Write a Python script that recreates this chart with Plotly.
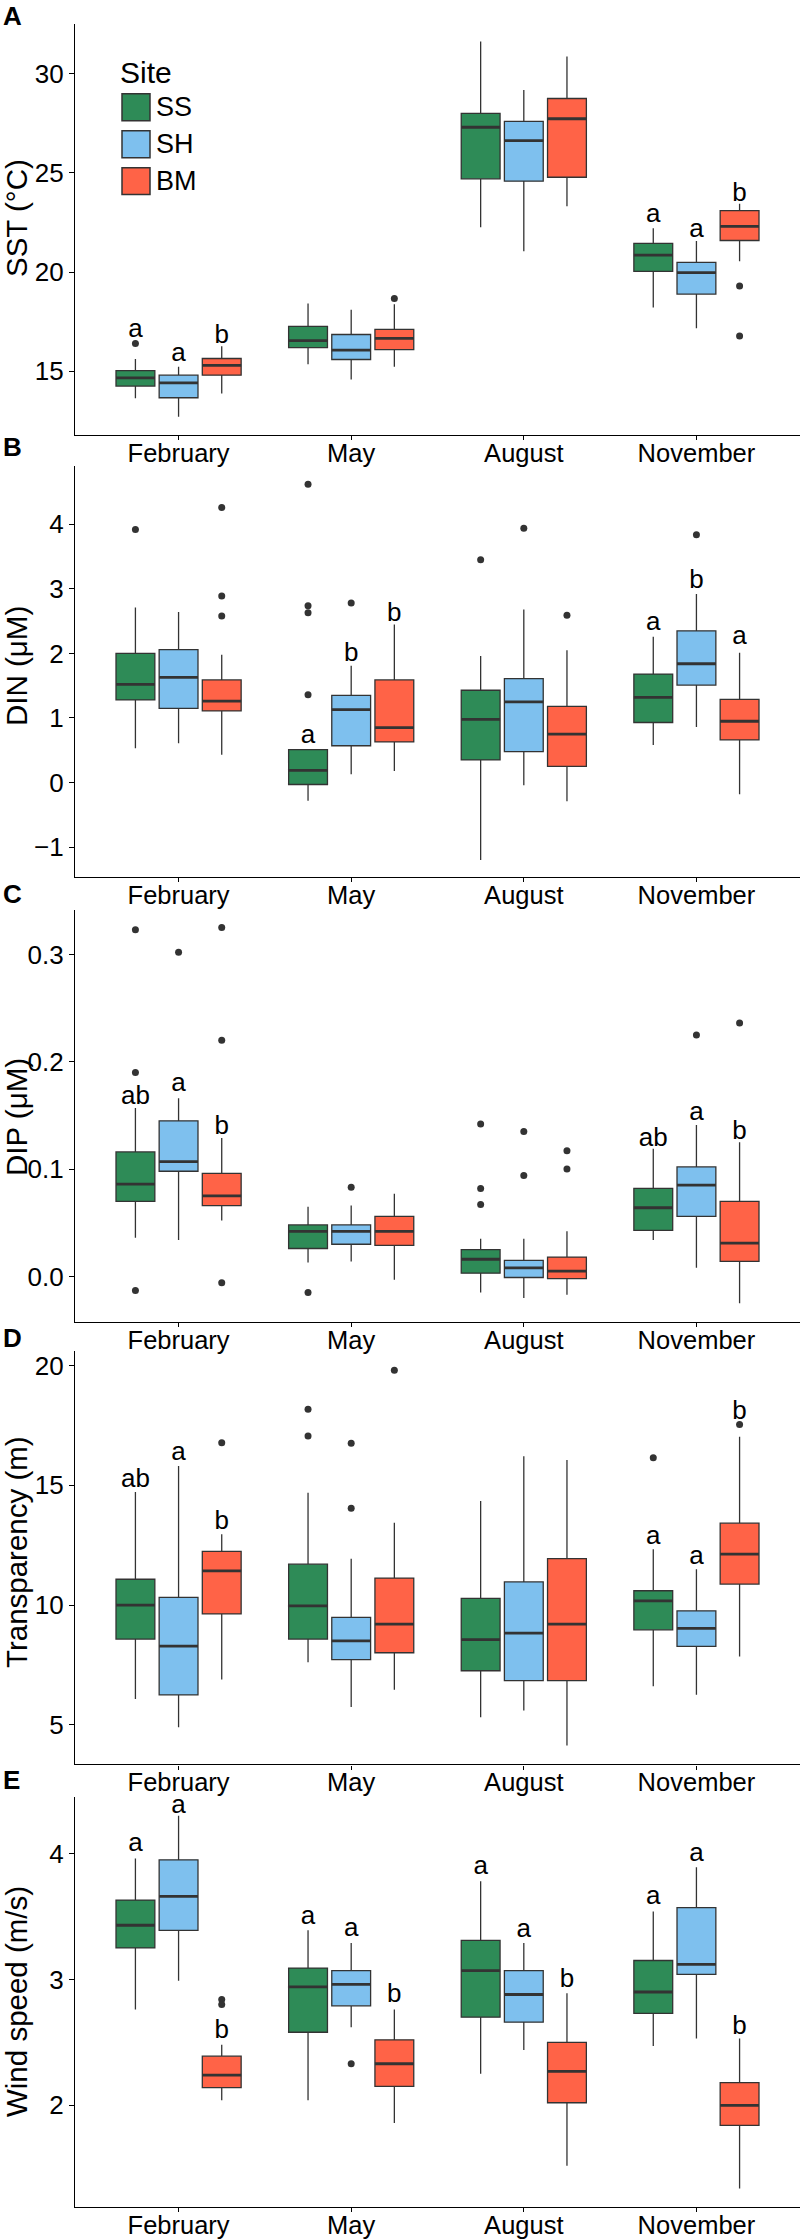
import plotly.graph_objects as go

months = ["February", "May", "August", "November"]
sites = ["SS", "SH", "BM"]
site_fill = {"SS": "#2E8B57", "SH": "#7EC0EE", "BM": "#FF6347"}

# (lower whisker, Q1, median, Q3, upper whisker) for February, May, August, November
sst_stats = {
    "SS": [(13.63, 14.25, 14.66, 15.03, 15.62), (15.35, 16.19, 16.54, 17.26, 18.41),
           (22.26, 24.70, 27.30, 28.00, 31.62), (18.21, 20.03, 20.85, 21.44, 22.21)],
    "SH": [(12.70, 13.66, 14.41, 14.80, 15.22), (14.58, 15.59, 16.06, 16.85, 18.10),
           (21.05, 24.58, 26.63, 27.60, 29.18), (17.16, 18.89, 19.97, 20.49, 21.56)],
    "BM": [(13.88, 14.80, 15.29, 15.64, 16.26), (15.22, 16.09, 16.65, 17.11, 18.37),
           (23.32, 24.78, 27.73, 28.75, 30.87), (20.54, 21.59, 22.30, 23.10, 23.44)],
}
sst_outliers = [("February", "SS", 16.39), ("May", "BM", 18.66),
                ("November", "BM", 19.29), ("November", "BM", 16.78)]
sst_letters = [("February", "SS", "a", 17.05), ("February", "SH", "a", 15.84), ("February", "BM", "b", 16.76),
               ("November", "SS", "a", 22.84), ("November", "SH", "a", 22.11), ("November", "BM", "b", 23.89)]

din_stats = {
    "SS": [(0.53, 1.28, 1.52, 2.00, 2.71), (-0.28, -0.03, 0.19, 0.51, 0.51),
           (-1.20, 0.35, 0.98, 1.43, 1.96), (0.58, 0.93, 1.32, 1.68, 2.26)],
    "SH": [(0.61, 1.15, 1.63, 2.06, 2.64), (0.13, 0.57, 1.13, 1.35, 1.81),
           (-0.04, 0.48, 1.25, 1.61, 2.68), (0.86, 1.51, 1.84, 2.35, 2.92)],
    "BM": [(0.43, 1.11, 1.26, 1.59, 1.98), (0.18, 0.63, 0.85, 1.59, 2.45),
           (-0.29, 0.25, 0.75, 1.18, 2.05), (-0.18, 0.66, 0.95, 1.29, 2.01)],
}
din_outliers = [("February", "SS", 3.92), ("February", "BM", 4.26), ("February", "BM", 2.89),
                ("February", "BM", 2.58), ("May", "SS", 4.62), ("May", "SS", 2.74), ("May", "SS", 2.63),
                ("May", "SS", 1.36), ("May", "SH", 2.78), ("August", "SS", 3.45), ("August", "SH", 3.94),
                ("August", "BM", 2.59), ("November", "SH", 3.84)]
din_letters = [("May", "SS", "a", 0.72), ("May", "SH", "b", 1.99), ("May", "BM", "b", 2.61),
               ("November", "SS", "a", 2.47), ("November", "SH", "b", 3.11), ("November", "BM", "a", 2.24)]

dip_stats = {
    "SS": [(0.036, 0.070, 0.086, 0.116, 0.157), (0.013, 0.026, 0.042, 0.048, 0.065),
           (-0.015, 0.003, 0.016, 0.025, 0.035), (0.034, 0.043, 0.064, 0.082, 0.119)],
    "SH": [(0.034, 0.098, 0.107, 0.145, 0.166), (0.014, 0.030, 0.042, 0.048, 0.066),
           (-0.020, -0.001, 0.008, 0.015, 0.035), (0.008, 0.056, 0.085, 0.102, 0.141)],
    "BM": [(0.052, 0.066, 0.075, 0.096, 0.129), (-0.003, 0.029, 0.042, 0.056, 0.077),
           (-0.017, -0.002, 0.005, 0.018, 0.042), (-0.025, 0.014, 0.031, 0.070, 0.125)],
}
dip_outliers = [("February", "SS", 0.323), ("February", "SS", 0.190), ("February", "SS", -0.013),
                ("February", "SH", 0.302), ("February", "BM", 0.325), ("February", "BM", 0.220),
                ("February", "BM", -0.006), ("May", "SS", -0.015), ("May", "SH", 0.083),
                ("August", "SS", 0.142), ("August", "SS", 0.082), ("August", "SS", 0.067),
                ("August", "SH", 0.135), ("August", "SH", 0.094), ("August", "BM", 0.117),
                ("August", "BM", 0.100), ("November", "SH", 0.225), ("November", "BM", 0.236)]
dip_letters = [("February", "SS", "ab", 0.1664), ("February", "SH", "a", 0.1785), ("February", "BM", "b", 0.1385),
               ("November", "SS", "ab", 0.1277), ("November", "SH", "a", 0.1515), ("November", "BM", "b", 0.1339)]

trans_stats = {
    "SS": [(6.08, 8.58, 10.00, 11.08, 14.72), (7.61, 8.58, 9.97, 11.71, 14.69),
           (5.32, 7.26, 8.56, 10.28, 14.35), (6.61, 8.97, 10.18, 10.60, 12.33)],
    "SH": [(4.90, 6.25, 8.29, 10.32, 15.81), (5.74, 7.72, 8.51, 9.49, 11.94),
           (5.60, 6.85, 8.83, 10.97, 16.22), (6.26, 8.28, 9.03, 9.76, 11.50)],
    "BM": [(6.89, 9.63, 11.43, 12.24, 12.96), (6.47, 8.01, 9.21, 11.13, 13.44),
           (4.14, 6.85, 9.21, 11.94, 16.06), (7.85, 10.88, 12.13, 13.42, 17.03)],
}
trans_outliers = [("February", "BM", 16.78), ("May", "SS", 18.18), ("May", "SS", 17.06),
                  ("May", "SH", 16.76), ("May", "SH", 14.04), ("May", "BM", 19.81),
                  ("November", "SS", 16.15), ("November", "BM", 17.54)]
trans_letters = [("February", "SS", "ab", 15.21), ("February", "SH", "a", 16.35), ("February", "BM", "b", 13.47),
                 ("November", "SS", "a", 12.83), ("November", "SH", "a", 12.00), ("November", "BM", "b", 18.06)]

wind_stats = {
    "SS": [(2.76, 3.25, 3.43, 3.63, 3.96), (2.04, 2.58, 2.94, 3.09, 3.39),
           (2.25, 2.70, 3.07, 3.31, 3.78), (2.47, 2.73, 2.90, 3.15, 3.54)],
    "SH": [(2.99, 3.39, 3.66, 3.95, 4.30), (2.62, 2.79, 2.96, 3.07, 3.29),
           (2.44, 2.66, 2.88, 3.07, 3.29), (2.53, 3.04, 3.12, 3.57, 3.89)],
    "BM": [(2.04, 2.14, 2.24, 2.39, 2.48), (1.86, 2.15, 2.33, 2.52, 2.76),
           (1.52, 2.02, 2.27, 2.50, 2.89), (1.34, 1.84, 2.00, 2.18, 2.53)],
}
wind_outliers = [("February", "BM", 2.84), ("February", "BM", 2.80), ("May", "SH", 2.33)]
wind_letters = [("February", "SS", "a", 4.07), ("February", "SH", "a", 4.37), ("February", "BM", "b", 2.59),
                ("May", "SS", "a", 3.49), ("May", "SH", "a", 3.40), ("May", "BM", "b", 2.87),
                ("August", "SS", "a", 3.89), ("August", "SH", "a", 3.39), ("August", "BM", "b", 2.99),
                ("November", "SS", "a", 3.65), ("November", "SH", "a", 3.99), ("November", "BM", "b", 2.62)]

panels = [
    dict(tag="A", title="SST (°C)", stats=sst_stats, outliers=sst_outliers, letters=sst_letters,
         yrange=[11.78, 32.51], ticks=[15, 20, 25, 30], fmt=""),
    dict(tag="B", title="DIN (μM)", stats=din_stats, outliers=din_outliers, letters=din_letters,
         yrange=[-1.468, 4.904], ticks=[-1, 0, 1, 2, 3, 4], fmt=""),
    dict(tag="C", title="DIP (μM)", stats=dip_stats, outliers=dip_outliers, letters=dip_letters,
         yrange=[-0.0425, 0.3417], ticks=[0.0, 0.1, 0.2, 0.3], fmt=".1f"),
    dict(tag="D", title="Transparency (m)", stats=trans_stats, outliers=trans_outliers, letters=trans_letters,
         yrange=[3.35, 20.6], ticks=[5, 10, 15, 20], fmt=""),
    dict(tag="E", title="Wind speed (m/s)", stats=wind_stats, outliers=wind_outliers, letters=wind_letters,
         yrange=[1.194, 4.449], ticks=[2, 3, 4], fmt=""),
]

# page geometry in pixels
W, H = 803, 2239
PLOT_LEFT, PLOT_RIGHT = 75, 800
panel_px = [(23, 435), (466, 878.3), (910.7, 1324), (1353.3, 1767.3), (1800, 2210.7)]
title_y = [218, 667, 1119, 1555, 2005]
tag_y = [15, 447, 895, 1340, 1783]
FONT = "Liberation Sans, Arial, Helvetica, sans-serif"
EDGE = "#333333"


def px_x(v):
    return v / W


def px_y(v):
    return 1 - v / H


fig = go.Figure()
layout = {}
annotations = []
shapes = []

for i, p in enumerate(panels, start=1):
    xa = "x" if i == 1 else f"x{i}"
    ya = "y" if i == 1 else f"y{i}"
    for s in sites:
        lo, q1, med, q3, hi = map(list, zip(*p["stats"][s]))
        fig.add_trace(go.Box(
            x=months, lowerfence=lo, q1=q1, median=med, q3=q3, upperfence=hi,
            xaxis=xa, yaxis=ya, offsetgroup=s, name=s, showlegend=False,
            fillcolor=site_fill[s], line=dict(color=EDGE, width=1.3), whiskerwidth=0,
        ))
        # heavier median bar drawn on top of the box
        fig.add_trace(go.Box(
            x=months, lowerfence=med, q1=med, median=med, q3=med, upperfence=med,
            xaxis=xa, yaxis=ya, offsetgroup=s, name=s, showlegend=False,
            fillcolor="rgba(0,0,0,0)", line=dict(color=EDGE, width=2.8), whiskerwidth=0,
        ))
        outs = [(m, v) for m, site, v in p["outliers"] if site == s]
        fig.add_trace(go.Scatter(
            x=[m for m, _ in outs], y=[v for _, v in outs], mode="markers",
            xaxis=xa, yaxis=ya, offsetgroup=s, showlegend=False,
            marker=dict(color=EDGE, size=7),
        ))
        labs = [(m, t, v) for m, site, t, v in p["letters"] if site == s]
        fig.add_trace(go.Scatter(
            x=[m for m, _, _ in labs], y=[v for _, _, v in labs], text=[t for _, t, _ in labs],
            mode="text", textposition="middle center", textfont=dict(size=26, color="black"),
            xaxis=xa, yaxis=ya, offsetgroup=s, showlegend=False,
        ))

    top, bot = panel_px[i - 1]
    layout["xaxis" if i == 1 else f"xaxis{i}"] = dict(
        domain=[px_x(PLOT_LEFT), px_x(PLOT_RIGHT)], anchor=ya, type="category",
        categoryorder="array", categoryarray=months, range=[-0.6, 3.6],
        showline=True, linecolor="black", linewidth=1.3, ticks="outside", ticklen=4,
        tickcolor="black", tickwidth=1.3, tickfont=dict(size=25.5, color="black"),
        ticklabelstandoff=-9, showgrid=False, zeroline=False,
    )
    layout["yaxis" if i == 1 else f"yaxis{i}"] = dict(
        domain=[px_y(bot), px_y(top)], anchor=xa, range=p["yrange"],
        tickmode="array", tickvals=p["ticks"], tickformat=p["fmt"],
        showline=True, linecolor="black", linewidth=1.3, ticks="outside", ticklen=5,
        tickcolor="black", tickwidth=1.3, tickfont=dict(size=26, color="black"),
        showgrid=False, zeroline=False,
    )
    annotations.append(dict(text=p["title"], xref="paper", yref="paper", x=px_x(16.5), y=px_y(title_y[i - 1]),
                            textangle=-90, showarrow=False, xanchor="center", yanchor="middle",
                            font=dict(size=29.5, color="black")))
    annotations.append(dict(text=f"<b>{p['tag']}</b>", xref="paper", yref="paper", x=px_x(1), y=px_y(tag_y[i - 1]),
                            showarrow=False, xanchor="left", yanchor="middle", font=dict(size=26, color="black")))

# legend drawn by hand so the keys can be large squares
annotations.append(dict(text="Site", xref="paper", yref="paper", x=px_x(118), y=px_y(72), showarrow=False,
                        xanchor="left", yanchor="middle", font=dict(size=30, color="black")))
for k, s in enumerate(sites):
    key_top = 93 + 37 * k
    shapes.append(dict(type="rect", xref="paper", yref="paper", x0=px_x(122), x1=px_x(150),
                       y0=px_y(key_top + 27), y1=px_y(key_top), fillcolor=site_fill[s],
                       line=dict(color=EDGE, width=1.5)))
    annotations.append(dict(text=s, xref="paper", yref="paper", x=px_x(154), y=px_y(key_top + 13.5),
                            showarrow=False, xanchor="left", yanchor="middle", font=dict(size=27, color="black")))

fig.update_layout(
    width=W, height=H, margin=dict(l=0, r=0, t=0, b=0),
    plot_bgcolor="white", paper_bgcolor="white",
    font=dict(family=FONT, color="black"),
    boxmode="group", boxgap=0.25, boxgroupgap=0.1,
    scattermode="group", scattergap=0.25,
    showlegend=False, annotations=annotations, shapes=shapes,
    **layout,
)

# drop the browser's default body margin so the figure fills the window exactly
fig.write_html("out.html", config={"displayModeBar": False},
               post_script="document.body.style.margin = '0';")
